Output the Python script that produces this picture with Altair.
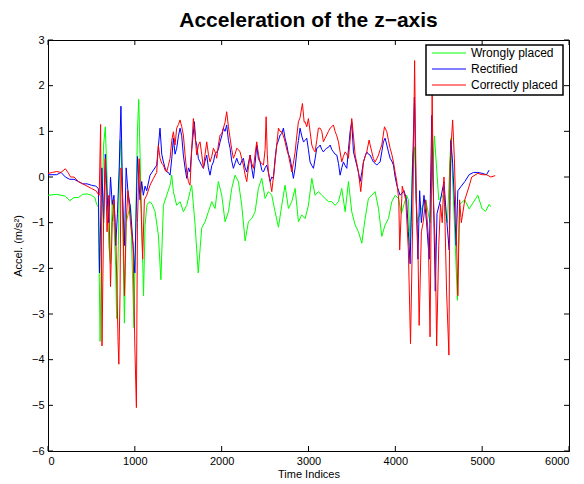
import altair as alt
import pandas as pd

series_names = ["Wrongly placed", "Rectified", "Correctly placed"]
series_colors = ["#00ff00", "#0000ff", "#ff0000"]

green_x = [0, 100, 200, 250, 300, 350, 400, 450, 500, 540, 560, 580, 600, 620, 640, 660, 680, 700, 720, 740, 760, 780, 790, 810, 830, 850, 880, 900, 950, 990, 1010, 1030, 1045, 1060, 1080, 1100, 1118, 1140, 1175, 1200, 1233, 1271, 1300, 1329, 1367, 1406, 1425, 1444, 1482, 1521, 1559, 1598, 1636, 1655, 1694, 1730, 1770, 1809, 1847, 1886, 1924, 1962, 2001, 2039, 2078, 2116, 2154, 2193, 2231, 2270, 2308, 2346, 2385, 2423, 2462, 2500, 2538, 2577, 2615, 2654, 2692, 2730, 2769, 2807, 2846, 2884, 2922, 2961, 2999, 3038, 3076, 3114, 3153, 3191, 3230, 3268, 3306, 3345, 3383, 3422, 3460, 3498, 3537, 3575, 3614, 3652, 3690, 3729, 3767, 3806, 3844, 3882, 3921, 3959, 3998, 4036, 4070, 4100, 4130, 4150, 4170, 4200, 4220, 4250, 4300, 4350, 4400, 4450, 4500, 4550, 4600, 4640, 4680, 4715, 4740, 4800, 4850, 4900, 4950, 5000, 5040, 5080, 5100]
green_y = [-0.40, -0.38, -0.42, -0.52, -0.45, -0.45, -0.38, -0.37, -0.40, -0.45, -0.60, -0.65, -3.60, -1.00, 0.70, 1.10, 0.00, -1.50, -1.90, -0.50, -1.00, -2.00, -3.10, -1.50, 0.80, 0.20, -3.20, -1.00, -0.60, -3.30, -1.00, 1.00, 1.70, 0.50, -1.00, -2.60, -1.05, -0.60, -0.54, -0.60, -0.76, -1.27, -2.25, -0.62, -0.40, -0.18, 0.04, -0.32, -0.62, -0.54, -0.76, -0.62, -0.32, -0.18, -1.05, -2.10, -1.12, -0.98, -0.76, -0.54, -0.69, -0.10, -0.40, -0.98, -0.76, -0.25, 0.04, -0.10, -0.62, -1.40, -0.98, -0.91, -0.76, -0.25, -0.03, -0.47, -0.32, -0.40, -0.76, -1.10, -0.62, -0.18, -0.69, -0.54, -0.25, -0.98, -0.83, -0.91, -0.62, -0.03, -0.40, -0.32, -0.40, -0.47, -0.54, -0.54, -0.62, -0.54, -0.25, -0.76, -0.10, -0.76, -1.05, -1.20, -1.45, -0.91, -0.47, -0.40, -0.32, -0.69, -1.30, -1.05, -0.91, -0.54, -0.40, -0.47, -0.80, -0.60, -0.40, -0.50, -1.50, 0.50, 0.66, -1.00, -0.70, -0.50, -1.00, 0.90, -0.50, -0.40, -1.00, 0.85, -1.00, -2.70, -0.60, -0.50, -0.70, -0.55, -0.40, -0.70, -0.75, -0.60, -0.65]

blue_x = [0, 100, 150, 200, 250, 300, 350, 400, 450, 500, 550, 580, 593, 620, 640, 660, 680, 700, 720, 740, 760, 780, 800, 820, 840, 860, 880, 900, 920, 950, 980, 1000, 1030, 1060, 1079, 1098, 1118, 1137, 1175, 1214, 1252, 1290, 1310, 1329, 1348, 1367, 1386, 1406, 1425, 1444, 1463, 1482, 1502, 1521, 1540, 1559, 1578, 1598, 1617, 1636, 1655, 1686, 1700, 1713, 1732, 1751, 1770, 1790, 1809, 1828, 1847, 1866, 1886, 1905, 1924, 1943, 1962, 1982, 2001, 2020, 2039, 2058, 2078, 2097, 2116, 2135, 2154, 2174, 2193, 2212, 2231, 2250, 2270, 2289, 2308, 2327, 2346, 2366, 2385, 2404, 2423, 2442, 2462, 2481, 2500, 2519, 2538, 2558, 2577, 2596, 2615, 2634, 2654, 2673, 2692, 2711, 2730, 2750, 2769, 2788, 2807, 2826, 2846, 2865, 2884, 2903, 2922, 2942, 2961, 2980, 2999, 3018, 3038, 3057, 3076, 3095, 3114, 3134, 3153, 3172, 3191, 3210, 3230, 3249, 3268, 3287, 3306, 3326, 3345, 3364, 3383, 3402, 3422, 3441, 3460, 3479, 3498, 3518, 3537, 3556, 3575, 3594, 3614, 3633, 3652, 3671, 3690, 3710, 3729, 3748, 3767, 3786, 3806, 3825, 3844, 3863, 3882, 3902, 3921, 3940, 3959, 3978, 3998, 4017, 4055, 4100, 4130, 4150, 4170, 4200, 4220, 4240, 4260, 4280, 4300, 4330, 4360, 4390, 4420, 4440, 4460, 4480, 4520, 4560, 4590, 4620, 4640, 4660, 4680, 4700, 4720, 4760, 4800, 4850, 4900, 4950, 5000, 5050, 5080]
blue_y = [0.05, 0.05, 0.10, 0.00, -0.05, -0.05, -0.10, -0.15, -0.15, -0.18, -0.20, -0.25, -2.10, 0.20, -1.00, 0.50, -0.40, -1.00, 0.00, -0.60, -0.40, -1.50, -0.80, 0.20, 1.55, -0.50, -1.50, 0.20, -0.30, -0.70, -1.50, -2.10, 0.45, -0.50, -0.10, -0.40, -0.20, -0.30, 0.04, 0.15, 0.26, 1.07, 0.50, 0.33, 0.20, 0.11, 0.10, 0.04, 0.40, 0.85, 0.50, 0.63, 0.90, 1.07, 0.90, 0.48, 0.20, -0.03, 0.20, 0.11, 0.60, 1.21, 0.80, 0.70, 0.40, 0.33, 0.25, 0.19, 0.35, 0.48, 0.20, 0.04, 0.25, 0.33, 0.50, 0.55, 0.60, 0.77, 0.90, 1.07, 1.00, 1.14, 0.80, 0.63, 0.35, 0.19, 0.30, 0.41, 0.30, 0.26, 0.35, 0.41, 0.20, 0.11, 0.30, 0.48, 0.20, -0.03, 0.30, 0.70, 0.40, 0.33, 0.15, 0.11, 0.20, 0.26, 0.10, -0.10, 0.00, -0.03, 0.40, 0.70, 0.80, 0.92, 0.95, 1.07, 0.85, 0.70, 0.50, 0.41, 0.20, -0.03, 0.20, 0.55, 0.80, 1.07, 0.90, 0.77, 0.80, 0.85, 0.60, 0.33, 0.25, 0.19, 0.40, 0.63, 0.65, 0.70, 0.60, 0.55, 0.60, 0.63, 0.65, 0.70, 0.60, 0.55, 0.50, 0.48, 0.30, 0.04, 0.20, 0.33, 0.25, 0.19, 0.60, 0.99, 1.21, 0.55, 0.40, 0.26, 0.10, -0.10, 0.10, 0.33, 0.45, 0.55, 0.50, 0.48, 0.40, 0.33, 0.30, 0.26, 0.30, 0.33, 0.55, 0.77, 0.85, 0.70, 0.55, 0.41, 0.35, 0.26, 0.00, -0.18, -0.40, -0.30, -0.50, -1.20, -1.90, 0.30, 1.75, -0.50, -1.80, -0.30, -1.00, -0.40, -1.00, -1.80, 1.35, -0.50, -2.50, -0.80, -0.50, -0.10, -0.90, -1.60, 0.80, 0.30, -0.50, -1.50, -0.30, -0.20, -0.10, 0.05, 0.10, 0.10, 0.08, 0.05, 0.15]

red_x = [0, 50, 100, 150, 200, 230, 260, 300, 350, 400, 450, 500, 550, 590, 606, 622, 640, 660, 680, 700, 720, 740, 760, 780, 807, 816, 830, 840, 860, 880, 900, 920, 950, 980, 1000, 1018, 1030, 1050, 1070, 1090, 1110, 1137, 1175, 1214, 1252, 1271, 1290, 1310, 1329, 1348, 1367, 1386, 1406, 1425, 1444, 1463, 1482, 1502, 1521, 1540, 1559, 1578, 1598, 1617, 1636, 1655, 1674, 1694, 1713, 1732, 1751, 1770, 1790, 1809, 1828, 1847, 1866, 1886, 1905, 1924, 1943, 1962, 1982, 2001, 2020, 2039, 2058, 2078, 2097, 2116, 2135, 2154, 2174, 2193, 2212, 2231, 2250, 2270, 2289, 2308, 2327, 2346, 2366, 2385, 2404, 2423, 2442, 2462, 2481, 2500, 2512, 2525, 2538, 2558, 2577, 2596, 2615, 2634, 2654, 2673, 2692, 2711, 2730, 2750, 2769, 2788, 2807, 2826, 2846, 2865, 2884, 2903, 2930, 2950, 2961, 2980, 2999, 3018, 3038, 3057, 3076, 3095, 3114, 3134, 3153, 3172, 3191, 3210, 3230, 3249, 3268, 3287, 3306, 3326, 3345, 3364, 3383, 3402, 3422, 3441, 3460, 3479, 3498, 3518, 3537, 3556, 3575, 3602, 3633, 3652, 3671, 3698, 3710, 3729, 3748, 3767, 3786, 3806, 3825, 3844, 3875, 3902, 3921, 3940, 3959, 3978, 3998, 4017, 4040, 4050, 4080, 4120, 4150, 4175, 4200, 4222, 4240, 4260, 4274, 4300, 4320, 4350, 4380, 4400, 4424, 4440, 4460, 4476, 4500, 4520, 4540, 4560, 4590, 4617, 4630, 4660, 4680, 4700, 4720, 4740, 4760, 4800, 4850, 4880, 4950, 5000, 5050, 5100, 5150]
red_y = [0.08, 0.10, 0.12, 0.10, 0.18, 0.10, 0.00, 0.00, -0.10, -0.15, -0.20, -0.25, -0.30, -0.40, 1.15, -3.70, -1.00, 0.40, -1.20, -0.40, -2.40, -1.00, -0.50, -1.20, -3.60, -4.10, -2.50, 0.20, -0.50, -2.60, -1.00, -0.30, -1.00, -1.50, -3.70, -5.05, -1.00, 0.40, -0.60, -1.80, -0.50, -0.40, -0.18, -0.03, 0.10, 0.70, 0.41, 0.30, 0.26, 0.15, 0.11, 0.25, 0.41, 0.80, 0.99, 0.70, 1.07, 1.15, 1.25, 1.10, 0.92, 0.50, 0.11, -0.10, -0.18, 0.60, 1.28, 0.90, 0.48, 0.70, 0.77, 0.50, 0.19, 0.50, 0.77, 0.50, 0.33, 0.45, 0.63, 0.55, 0.41, 0.70, 0.92, 0.95, 1.07, 1.20, 1.43, 1.10, 0.85, 0.60, 0.41, 0.50, 0.63, 0.60, 0.55, 0.40, 0.26, 0.05, -0.10, 0.20, 0.48, 0.30, 0.19, 0.50, 0.77, 0.50, 0.33, 0.30, 0.26, 0.60, 1.32, 0.50, 0.11, -0.10, -0.32, 0.00, 0.33, 0.70, 1.07, 1.00, 0.99, 0.90, 0.77, 0.60, 0.48, 0.30, 0.11, 0.30, 0.55, 0.90, 1.21, 1.30, 1.61, 1.20, 1.21, 1.10, 1.28, 1.00, 0.70, 0.60, 0.55, 0.80, 1.07, 1.07, 1.00, 0.77, 0.85, 0.92, 1.00, 1.07, 1.10, 1.14, 1.00, 0.90, 0.77, 0.55, 0.33, 0.45, 0.55, 0.50, 0.41, 0.80, 1.28, 0.90, 0.48, 0.30, 0.11, -0.32, 0.33, 0.45, 0.55, 0.81, 0.70, 0.55, 0.40, 0.33, 0.40, 0.48, 0.60, 0.70, 1.10, 0.99, 0.80, 0.63, 0.50, 0.33, 0.10, -0.10, -0.50, -1.60, -0.20, -0.50, -1.60, -3.65, -1.00, 2.55, -0.40, -1.50, -3.25, -1.20, -1.00, -0.50, -1.30, -3.50, 1.80, -0.60, -1.50, -3.70, -1.50, -0.60, -1.00, 0.00, -2.50, -3.90, 0.30, 1.25, 0.40, -1.00, -2.60, -0.50, -1.00, -0.50, -0.20, 0.00, 0.08, 0.05, 0.05, 0.00, 0.03]

x_ticks = [0, 1000, 2000, 3000, 4000, 5000, 6000]
y_ticks = [-6, -5, -4, -3, -2, -1, 0, 1, 2, 3]

rows = []
for name, xs, ys in [(series_names[0], green_x, green_y),
                     (series_names[1], blue_x, blue_y),
                     (series_names[2], red_x, red_y)]:
    for i, (a, b) in enumerate(zip(xs, ys)):
        rows.append({"series": name, "idx": a, "val": b, "order": i})
df = pd.DataFrame(rows)

W, H = 521, 411
FONT = "Liberation Sans"

xscale = alt.Scale(domain=[0, 6000], nice=False, zero=False)
yscale = alt.Scale(domain=[-6, 3], nice=False, zero=False)
cscale = alt.Scale(domain=series_names, range=series_colors)

lines = alt.Chart(df).mark_line(strokeWidth=1, clip=True).encode(
    x=alt.X("idx:Q", scale=xscale,
            axis=alt.Axis(values=x_ticks, title="Time Indices", ticks=False,
                          labelPadding=4, titlePadding=2, format="d")),
    y=alt.Y("val:Q", scale=yscale,
            axis=alt.Axis(values=y_ticks, title="Accel. (m/s²)", ticks=False,
                          labelPadding=4, titlePadding=8, format="d")),
    color=alt.Color("series:N", scale=cscale, legend=None),
    order="order:Q",
    detail="series:N",
)

xt = pd.DataFrame({"t": x_ticks})
yt = pd.DataFrame({"t": y_ticks})
tick_style = dict(color="black", strokeWidth=1)
xt_bot = alt.Chart(xt).mark_rule(**tick_style).encode(
    x=alt.X("t:Q", scale=xscale), y=alt.value(H), y2=alt.value(H - 5))
xt_top = alt.Chart(xt).mark_rule(**tick_style).encode(
    x=alt.X("t:Q", scale=xscale), y=alt.value(0), y2=alt.value(5))
yt_left = alt.Chart(yt).mark_rule(**tick_style).encode(
    y=alt.Y("t:Q", scale=yscale, axis=None), x=alt.value(0), x2=alt.value(5))
yt_right = alt.Chart(yt).mark_rule(**tick_style).encode(
    y=alt.Y("t:Q", scale=yscale, axis=None), x=alt.value(W), x2=alt.value(W - 5))

# legend box (drawn as marks, MATLAB style)
leg_df = pd.DataFrame({"series": series_names, "rank": [0, 1, 2]})
rank_scale = alt.Scale(domain=[0, 2], range=[13, 45])
leg_box = alt.Chart(pd.DataFrame({"k": [0]})).mark_rect(
    fill="white", stroke="black", strokeWidth=1.5).encode(
    x=alt.value(378), x2=alt.value(515), y=alt.value(5), y2=alt.value(55))
leg_lines = alt.Chart(leg_df).mark_rule(strokeWidth=1).encode(
    x=alt.value(384), x2=alt.value(418),
    y=alt.Y("rank:Q", scale=rank_scale, axis=None),
    color=alt.Color("series:N", scale=cscale, legend=None))
leg_text = alt.Chart(leg_df).mark_text(
    align="left", baseline="middle", fontSize=12, font=FONT, color="black").encode(
    x=alt.value(423),
    y=alt.Y("rank:Q", scale=rank_scale, axis=None),
    text="series:N")
legend = alt.layer(leg_box, leg_lines, leg_text)

chart = alt.layer(lines, xt_bot, xt_top, yt_left, yt_right, legend).resolve_scale(
    y="independent"
).properties(
    width=W, height=H,
    title=alt.TitleParams("Acceleration of the z\u2212axis", fontSize=21, font=FONT,
                          fontWeight="bold", color="black", anchor="middle", offset=3),
    autosize=alt.AutoSizeParams(type="none"),
    padding={"left": 40, "top": 32, "right": 7, "bottom": 30},
).configure_view(stroke="black", strokeWidth=1).configure_axis(
    labelFont=FONT, titleFont=FONT, labelFontSize=11, titleFontSize=11,
    labelColor="black", titleColor="black", titleFontWeight="normal",
    domainColor="black", grid=False,
)

chart.save("out.html", embed_options={"renderer": "svg", "actions": False})
